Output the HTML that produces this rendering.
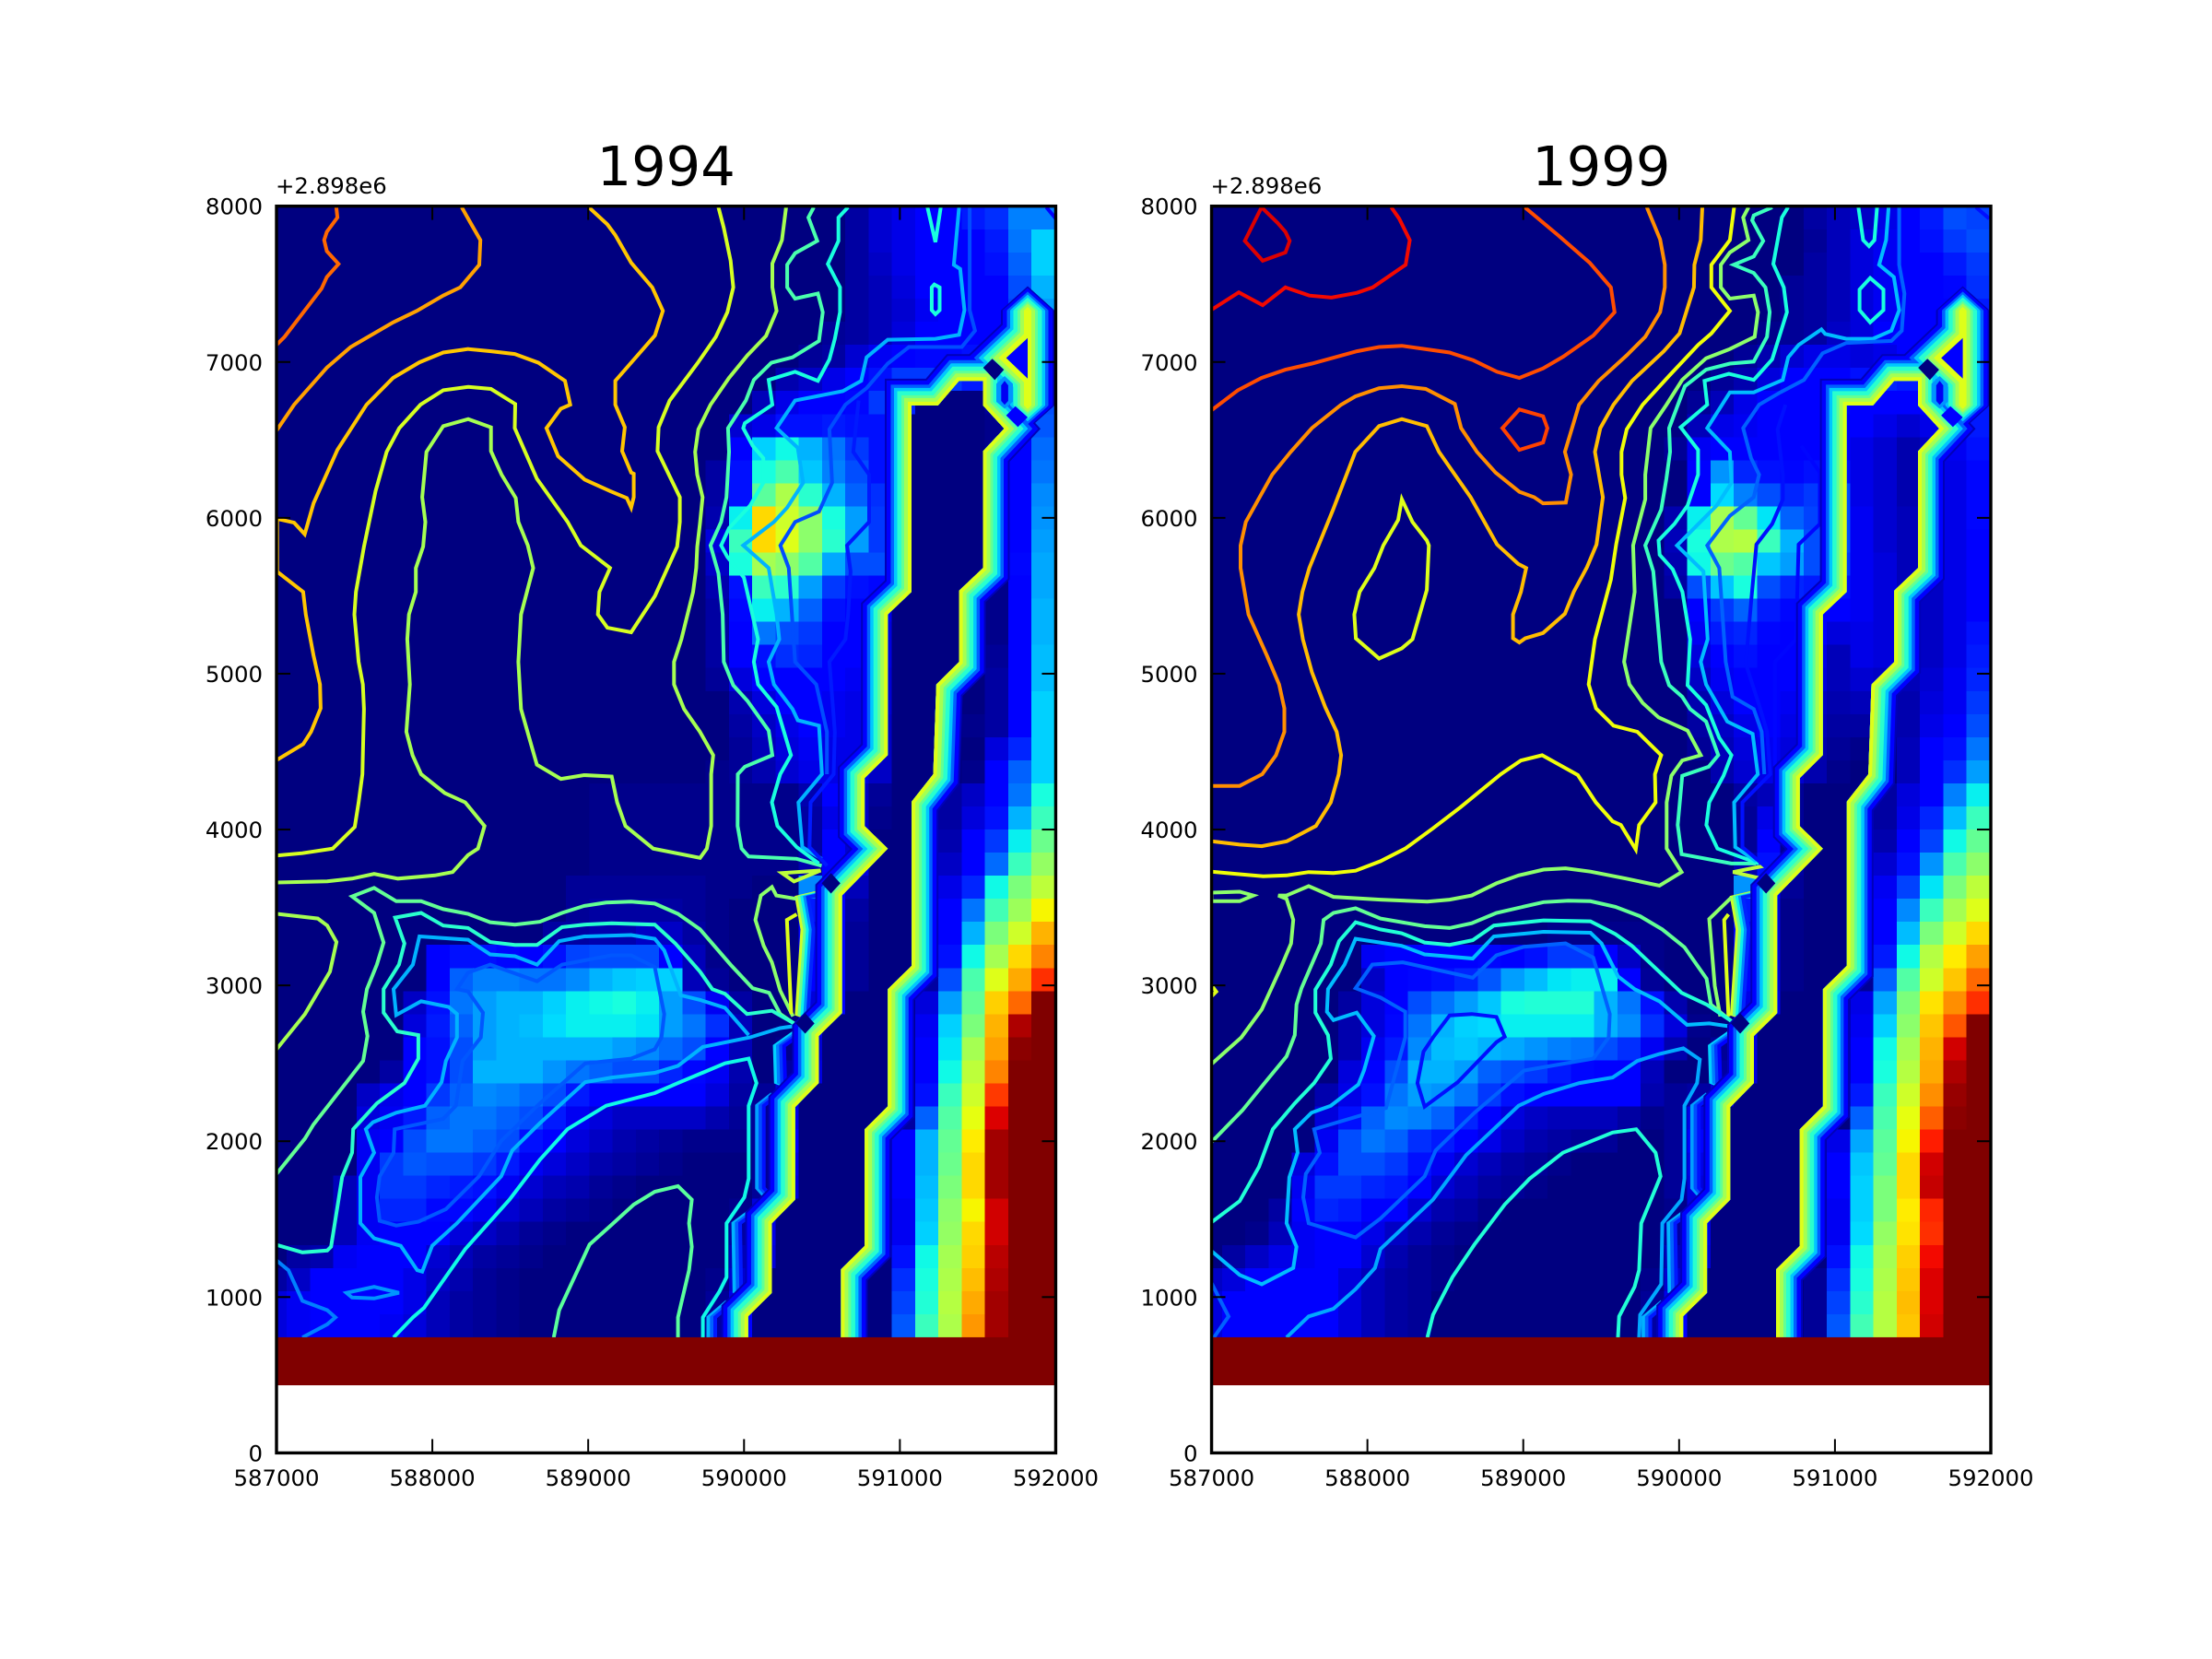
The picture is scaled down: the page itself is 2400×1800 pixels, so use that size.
<!DOCTYPE html>
<html lang="en">
<head>
<meta charset="utf-8">
<title>1994 and 1999 contour maps</title>
<style>
html,body{margin:0;padding:0;background:#fff;width:2400px;height:1800px;overflow:hidden}
svg{display:block}
text{font-family:"DejaVu Sans","Liberation Sans",sans-serif;fill:#000}
</style>
</head>
<body>
<svg id="chart" xmlns="http://www.w3.org/2000/svg" width="2400" height="1800" viewBox="0 0 2400 1800">
  <rect x="0" y="0" width="2400" height="1800" fill="#fff"/>
  <g id="panel-0"></g>
  <g id="panel-1"></g>
  <text x="722.7" y="201" font-size="59" text-anchor="middle">1994</text>
  <text x="1737.3" y="201" font-size="59" text-anchor="middle">1999</text>
  <text x="299" y="210" font-size="24.4">+2.898e6</text>
  <text x="1313.5" y="210" font-size="24.4">+2.898e6</text>
</svg>
<script>
// ---------- shared axis data ----------
const xTicks = [587000, 588000, 589000, 590000, 591000, 592000];
const yTicks = [0, 1000, 2000, 3000, 4000, 5000, 6000, 7000, 8000];
const xDomain = [587000, 592000];
const yDomain = [0, 8000];
const gridXStart = 586917;
const gridXStep = 149.3;
const gridYStart = 742;
const gridYStep = 148.1;
const fillBandY = [434, 742];
const fillBandValue = 100;

// ---------- heatmap values, 0-100, top row first ----------
const heat1994 = [
[0,0,0,0,0,0,0,0,0,0,0,0,0,0,0,0,0,0,0,0,0,0,0,0,0,3,7,9,11,11,15,17,25,25],
[0,0,0,0,0,0,0,0,0,0,0,0,0,0,0,0,0,0,0,0,0,0,0,0,0,3,7,9,11,11,12,15,24,33],
[0,0,0,0,0,0,0,0,0,0,0,0,0,0,0,0,0,0,0,0,0,0,0,0,0,3,6,9,11,11,12,14,22,33],
[0,0,0,0,0,0,0,0,0,0,0,0,0,0,0,0,0,0,0,0,0,0,0,0,0,3,5,8,11,11,11,12,20,30],
[0,0,0,0,0,0,0,0,0,0,0,0,0,0,0,0,0,0,0,0,0,0,0,0,0,3,5,7,10,11,11,12,19,28],
[0,0,0,0,0,0,0,0,0,0,0,0,0,0,0,0,0,0,0,0,0,0,0,0,2,3,5,8,11,11,11,11,15,25],
[0,0,0,0,0,0,0,0,0,0,0,0,0,0,0,0,0,0,0,0,0,0,0,2,3,7,10,12,13,13,14,5,11,22],
[0,0,0,0,0,0,0,0,0,0,0,0,0,0,0,0,0,0,0,0,0,0,4,6,9,11,14,18,18,18,15,5,11,20],
[0,0,0,0,0,0,0,0,0,0,0,0,0,0,0,0,0,0,0,0,0,5,9,11,12,13,18,16,0,0,0,2,11,20],
[0,0,0,0,0,0,0,0,0,0,0,0,0,0,0,0,0,0,0,0,7,9,14,14,15,14,14,0,0,0,0,1,11,21],
[0,0,0,0,0,0,0,0,0,0,0,0,0,0,0,0,0,0,0,0,12,33,37,30,24,18,14,0,0,0,0,1,11,23],
[0,0,0,0,0,0,0,0,0,0,0,0,0,0,0,0,0,0,0,3,14,38,44,32,25,20,14,0,0,0,0,1,11,24],
[0,0,0,0,0,0,0,0,0,0,0,0,0,0,0,0,0,0,0,3,14,46,56,40,30,22,17,0,0,0,0,1,11,26],
[0,0,0,0,0,0,0,0,0,0,0,0,0,0,0,0,0,0,0,4,36,68,60,52,38,28,18,0,0,0,0,1,12,27],
[0,0,0,0,0,0,0,0,0,0,0,0,0,0,0,0,0,0,0,8,42,68,62,52,40,28,18,0,0,0,0,1,12,28],
[0,0,0,0,0,0,0,0,0,0,0,0,0,0,0,0,0,0,0,6,38,55,52,45,29,20,20,0,0,0,0,1,13,29],
[0,0,0,0,0,0,0,0,0,0,0,0,0,0,0,0,0,0,0,4,14,42,40,28,18,14,13,0,0,0,0,1,12,29],
[0,0,0,0,0,0,0,0,0,0,0,0,0,0,0,0,0,0,0,3,13,36,30,22,14,12,9,0,0,0,0,1,12,30],
[0,0,0,0,0,0,0,0,0,0,0,0,0,0,0,0,0,0,0,3,12,24,20,18,12,11,8,0,0,0,0,1,12,30],
[0,0,0,0,0,0,0,0,0,0,0,0,0,0,0,0,0,0,0,3,11,14,17,16,12,11,8,0,0,0,0,2,12,31],
[0,0,0,0,0,0,0,0,0,0,0,0,0,0,0,0,0,0,0,2,8,11,12,12,11,10,7,0,0,0,0,3,11,31],
[0,0,0,0,0,0,0,0,0,0,0,0,0,0,0,0,0,0,0,0,4,8,11,11,10,9,7,0,0,0,0,3,11,33],
[0,0,0,0,0,0,0,0,0,0,0,0,0,0,0,0,0,0,0,0,3,6,9,11,10,9,6,0,0,0,1,3,11,33],
[0,0,0,0,0,0,0,0,0,0,0,0,0,0,0,0,0,0,0,0,2,5,8,10,9,9,6,0,0,0,0,8,16,33],
[0,0,0,0,0,0,0,0,0,0,0,0,0,0,0,0,0,0,0,1,2,4,7,9,9,9,6,0,0,0,1,11,22,33],
[0,0,0,0,0,0,0,0,0,0,0,0,0,0,1,1,1,1,1,1,1,1,1,4,11,6,2,0,0,3,6,11,24,38],
[0,0,0,0,0,0,0,0,0,0,0,0,0,0,1,1,1,1,1,1,1,1,1,3,9,6,1,0,0,3,8,14,30,42],
[0,0,0,0,0,0,0,0,0,0,0,0,0,0,1,1,1,1,1,1,1,1,1,3,11,7,0,0,0,4,11,18,36,48],
[0,0,0,0,0,0,0,0,0,0,0,0,0,0,1,1,1,1,1,1,1,1,1,4,11,8,0,0,0,6,11,23,42,53],
[0,0,0,0,0,0,0,0,0,0,0,0,0,2,2,2,2,2,2,1,1,0,0,26,11,5,0,0,0,9,16,37,50,58],
[0,0,0,0,0,0,0,0,0,0,0,0,0,2,3,3,3,3,2,1,0,0,0,15,11,3,0,0,0,11,24,43,54,65],
[0,0,0,0,0,0,0,0,0,0,0,0,3,3,4,4,6,6,3,1,0,0,0,11,11,2,0,0,0,11,30,50,60,72],
[0,0,0,0,0,0,0,11,14,14,13,12,14,19,20,20,20,11,5,1,0,0,0,11,11,2,0,0,3,14,37,55,68,77],
[0,0,0,0,0,0,0,11,22,25,25,24,24,26,30,32,33,33,5,2,0,0,0,11,11,2,0,0,3,20,44,62,73,86],
[0,0,0,0,0,0,6,14,24,28,30,30,33,36,37,38,36,28,20,10,3,0,0,8,11,0,0,0,8,28,47,69,80,100],
[0,0,0,0,0,0,8,15,22,28,30,31,34,36,36,36,35,28,24,17,5,0,0,9,0,0,0,0,10,33,50,72,96,100],
[0,0,0,0,0,0,11,14,20,28,30,30,30,30,30,28,26,23,20,12,5,0,1,7,0,0,0,0,11,35,55,74,99,100],
[0,0,0,0,0,3,11,14,20,30,30,30,27,24,22,20,20,16,13,10,4,0,3,8,0,0,0,0,11,37,58,77,100,100],
[0,0,0,0,6,9,11,18,22,26,25,23,20,15,11,11,11,11,11,8,3,2,8,0,0,0,0,0,14,42,60,85,100,100],
[0,0,0,0,8,10,15,22,24,24,22,20,15,10,8,6,6,6,6,4,2,2,9,0,0,0,0,3,22,45,63,92,100,100],
[0,0,0,0,10,12,20,24,24,22,20,14,11,8,6,4,3,2,1,1,1,2,11,0,0,0,0,11,30,47,66,97,100,100],
[0,0,0,0,10,18,21,20,20,18,15,10,8,6,4,3,2,1,0,0,0,2,9,0,0,0,0,11,30,48,68,97,100,100],
[0,0,0,5,10,18,18,16,15,14,10,7,5,4,2,1,0,0,0,0,0,2,8,0,0,0,0,11,31,50,68,97,100,100],
[0,0,0,5,10,16,16,13,13,10,7,5,3,2,1,0,0,0,0,0,1,8,0,0,0,0,0,10,32,52,65,93,100,100],
[0,0,0,5,10,12,12,11,8,6,4,2,1,0,0,0,0,0,0,0,3,9,0,0,0,0,0,10,33,53,68,93,100,100],
[0,3,4,10,11,11,11,7,5,3,2,1,0,0,0,0,0,0,0,0,5,8,0,0,0,0,0,14,37,55,69,95,100,100],
[3,6,11,11,11,11,9,6,4,2,1,0,0,0,0,0,0,0,0,1,7,0,0,0,0,0,0,17,38,56,71,96,100,100],
[8,10,11,11,11,11,9,5,3,2,1,0,0,0,0,0,0,0,0,2,9,0,0,0,0,0,0,19,39,57,73,97,100,100],
[8,10,11,11,11,10,8,5,3,2,1,0,0,0,0,0,0,0,0,3,11,0,0,0,0,0,0,21,42,56,75,97,100,100]
];
const heat1999 = [
[0,0,0,0,0,0,0,0,0,0,0,0,0,0,0,0,0,0,0,0,0,0,0,0,0,0,3,5,6,9,11,15,20,19],
[0,0,0,0,0,0,0,0,0,0,0,0,0,0,0,0,0,0,0,0,0,0,0,0,0,0,2,5,8,10,11,14,18,20],
[0,0,0,0,0,0,0,0,0,0,0,0,0,0,0,0,0,0,0,0,0,0,0,0,0,0,3,5,8,10,11,12,15,18],
[0,0,0,0,0,0,0,0,0,0,0,0,0,0,0,0,0,0,0,0,0,0,0,0,0,2,3,5,8,10,11,11,13,17],
[0,0,0,0,0,0,0,0,0,0,0,0,0,0,0,0,0,0,0,0,0,0,0,0,0,2,3,5,8,10,11,11,12,15],
[0,0,0,0,0,0,0,0,0,0,0,0,0,0,0,0,0,0,0,0,0,0,0,0,1,2,3,6,8,11,11,11,11,14],
[0,0,0,0,0,0,0,0,0,0,0,0,0,0,0,0,0,0,0,0,0,0,0,2,4,7,9,9,8,9,11,11,11,14],
[0,0,0,0,0,0,0,0,0,0,0,0,0,0,0,0,0,0,0,0,0,0,2,4,8,11,12,11,14,16,15,11,11,15],
[0,0,0,0,0,0,0,0,0,0,0,0,0,0,0,0,0,0,0,0,0,2,5,9,11,11,12,13,11,11,11,11,11,15],
[0,0,0,0,0,0,0,0,0,0,0,0,0,0,0,0,0,0,0,0,0,5,9,10,11,11,11,12,11,9,7,9,11,15],
[0,0,0,0,0,0,0,0,0,0,0,0,0,0,0,0,0,0,0,0,2,10,11,11,11,11,12,12,9,7,4,6,10,14],
[0,0,0,0,0,0,0,0,0,0,0,0,0,0,0,0,0,0,0,0,0,12,27,16,14,13,14,14,9,7,4,6,9,13],
[0,0,0,0,0,0,0,0,0,0,0,0,0,0,0,0,0,0,0,0,0,12,34,25,20,16,18,20,9,7,4,6,9,13],
[0,0,0,0,0,0,0,0,0,0,0,0,0,0,0,0,0,0,0,0,4,36,55,47,35,22,19,20,10,7,5,6,9,13],
[0,0,0,0,0,0,0,0,0,0,0,0,0,0,0,0,0,0,0,0,5,38,56,57,42,30,20,20,10,7,5,6,9,12],
[0,0,0,0,0,0,0,0,0,0,0,0,0,0,0,0,0,0,0,0,4,37,48,45,32,28,20,18,10,8,5,6,9,11],
[0,0,0,0,0,0,0,0,0,0,0,0,0,0,0,0,0,0,0,0,3,20,32,38,20,16,15,14,10,8,5,6,9,12],
[0,0,0,0,0,0,0,0,0,0,0,0,0,0,0,0,0,0,0,0,0,12,18,22,15,13,11,11,10,8,5,6,9,12],
[0,0,0,0,0,0,0,0,0,0,0,0,0,0,0,0,0,0,0,0,0,10,15,16,13,11,11,8,9,8,5,6,9,14],
[0,0,0,0,0,0,0,0,0,0,0,0,0,0,0,0,0,0,0,0,0,8,12,14,12,11,9,5,9,8,5,6,9,15],
[0,0,0,0,0,0,0,0,0,0,0,0,0,0,0,0,0,0,0,0,0,6,10,11,11,11,8,5,7,6,5,7,10,16],
[0,0,0,0,0,0,0,0,0,0,0,0,0,0,0,0,0,0,0,0,0,4,8,11,11,10,6,4,5,4,4,8,10,18],
[0,0,0,0,0,0,0,0,0,0,0,0,0,0,0,0,0,0,0,0,0,3,6,9,11,9,5,3,3,3,4,9,11,20],
[0,0,0,0,0,0,0,0,0,0,0,0,0,0,0,0,0,0,0,0,0,2,5,8,10,8,4,2,1,1,5,11,14,24],
[0,0,0,0,0,0,0,0,0,0,0,0,0,0,0,0,0,0,0,0,0,0,4,7,9,7,4,1,0,0,5,11,17,28],
[0,0,0,0,0,0,0,0,0,0,0,0,0,0,0,0,0,0,0,0,0,0,0,3,5,2,0,0,0,3,8,11,25,36],
[0,0,0,0,0,0,0,0,0,0,0,0,0,0,0,0,0,0,0,0,0,0,0,2,9,2,0,0,0,3,9,16,31,42],
[0,0,0,0,0,0,0,0,0,0,0,0,0,0,0,0,0,0,0,0,0,0,0,2,12,2,0,0,0,4,11,19,37,47],
[0,0,0,0,0,0,0,0,0,0,0,0,0,0,0,0,0,0,0,0,0,0,0,4,14,3,0,0,0,7,14,27,44,52],
[0,0,0,0,0,0,0,0,0,0,0,0,0,0,0,0,0,0,0,0,0,0,0,27,10,2,0,0,0,10,19,35,50,58],
[0,0,0,0,0,0,0,0,0,0,0,0,0,0,0,0,0,0,0,0,0,0,0,15,8,1,0,0,0,11,26,42,55,62],
[0,0,0,0,0,0,0,0,0,0,0,0,0,0,0,1,1,1,1,1,0,0,0,11,8,1,0,0,0,11,31,50,60,68],
[0,0,0,0,0,0,0,10,11,11,11,11,13,12,14,18,18,11,6,1,0,0,0,11,8,1,0,0,2,15,37,57,66,74],
[0,0,0,0,0,0,0,6,11,13,14,16,21,28,31,35,36,36,11,2,0,0,0,11,8,1,0,0,2,22,45,60,70,80],
[0,0,0,0,0,0,3,8,11,20,24,28,32,38,39,39,39,30,24,14,4,0,0,9,9,0,0,0,9,29,50,67,76,86],
[0,0,0,0,0,0,4,8,13,24,30,33,34,36,36,36,36,30,26,17,8,1,0,10,0,0,0,0,10,33,52,70,82,100],
[0,0,0,0,0,0,4,10,15,26,31,32,30,29,27,25,24,20,17,10,4,0,2,8,0,0,0,0,11,37,55,72,93,100],
[0,0,0,0,0,0,8,11,20,30,30,28,22,20,18,15,13,12,11,5,0,0,3,8,0,0,0,0,11,38,57,73,96,100],
[0,0,0,0,0,4,9,14,24,28,27,24,18,14,11,11,11,11,11,4,2,3,8,0,0,0,0,0,15,42,60,76,98,100],
[0,0,0,0,0,8,14,22,26,25,22,16,11,8,6,5,5,5,3,1,2,9,0,0,0,0,0,0,22,44,63,81,99,100],
[0,0,0,0,0,10,20,24,22,17,15,11,9,6,4,3,2,2,0,0,2,11,0,0,0,0,0,9,29,46,65,88,100,100],
[0,0,0,0,8,14,20,20,18,14,10,7,5,3,2,1,0,0,0,0,2,9,0,0,0,0,0,11,32,47,68,93,100,100],
[0,0,0,0,10,18,18,16,15,12,7,5,3,2,1,0,0,0,0,0,2,8,0,0,0,0,0,11,33,50,68,94,100,100],
[0,0,0,3,11,16,15,12,11,7,4,3,1,0,0,0,0,0,0,0,1,8,0,0,0,0,0,10,33,50,66,87,100,100],
[0,0,1,5,10,12,11,9,6,4,2,1,0,0,0,0,0,0,0,0,3,9,0,0,0,0,0,10,34,53,67,86,100,100],
[0,3,6,9,10,11,11,7,4,2,1,0,0,0,0,0,0,0,0,0,5,8,0,0,0,0,0,14,37,55,69,90,100,100],
[6,8,11,11,11,11,8,5,3,2,1,0,0,0,0,0,0,0,0,1,7,0,0,0,0,0,2,17,38,56,70,92,100,100],
[8,11,12,12,11,11,8,5,3,2,0,0,0,0,0,0,0,0,0,2,9,0,0,0,0,0,2,19,40,57,71,92,100,100],
[8,11,12,12,11,11,8,5,3,2,0,0,0,0,0,0,0,0,0,3,11,0,0,0,0,0,2,21,43,57,70,93,100,100]
];

// ---------- contour lines in data coordinates ----------
const contours1994 = [
{level:80,pts:[[587384,7993],[587391,7927],[587323,7835],[587306,7782],[587323,7711],[587398,7629],[587323,7545],[587289,7471],[587052,7162],[587000,7110]]},
{level:74,pts:[[588189,7993],[588240,7901],[588308,7782],[588301,7624],[588179,7479],[588070,7426],[587900,7328],[587748,7254],[587476,7096],[587323,6964],[587113,6726],[587000,6560]]},
{level:70,pts:[[589004,7993],[589123,7883],[589174,7814],[589276,7637],[589411,7479],[589479,7328],[589428,7170],[589174,6879],[589174,6726],[589235,6581],[589218,6428],[589276,6291],[589292,6283],[589292,6132],[589276,6066],[589248,6127],[589140,6172],[588977,6246],[588807,6396],[588732,6576],[588824,6700],[588885,6726],[588851,6879],[588681,6995],[588529,7051],[588376,7069],[588230,7083],[588070,7061],[587917,6998],[587748,6898],[587578,6726],[587391,6436],[587238,6093],[587181,5895],[587113,5969],[587011,5992],[587004,5995],[587004,5655],[587171,5525],[587188,5380],[587238,5116],[587279,4931],[587283,4778],[587222,4627],[587171,4548],[587000,4445]]},
{level:61,pts:[[589836,7993],[589870,7861],[589914,7650],[589931,7479],[589893,7320],[589819,7162],[589700,6990],[589523,6753],[589452,6581],[589445,6428],[589588,6132],[589588,5974],[589571,5815],[589428,5499],[589276,5266],[589123,5295],[589062,5380],[589072,5525],[589140,5678],[588953,5823],[588868,5974],[588671,6251],[588529,6576],[588532,6731],[588376,6827],[588230,6840],[588070,6819],[587924,6726],[587788,6576],[587707,6423],[587636,6172],[587561,5815],[587510,5525],[587500,5380],[587527,5076],[587554,4931],[587561,4773],[587551,4355],[587527,4174],[587502,4017],[587361,3878],[587166,3848],[587000,3833]]},
{level:55,pts:[[590270,7993],[590243,7782],[590182,7632],[590182,7479],[590209,7328],[590141,7167],[590022,7043],[589904,6898],[589785,6726],[589707,6568],[589686,6423],[589700,6277],[589734,6132],[589717,5961],[589700,5815],[589693,5678],[589673,5525],[589598,5221],[589551,5076],[589551,4931],[589615,4773],[589717,4627],[589802,4477],[589789,4355],[589789,4023],[589761,3878],[589718,3818],[589417,3878],[589239,4023],[589186,4174],[589151,4340],[588974,4349],[588825,4325],[588671,4416],[588569,4773],[588552,5076],[588569,5380],[588647,5678],[588613,5823],[588552,5974],[588535,6127],[588444,6277],[588376,6428],[588376,6581],[588230,6634],[588070,6589],[587962,6423],[587935,6132],[587955,5974],[587941,5815],[587894,5678],[587894,5525],[587850,5380],[587839,5221],[587856,4931],[587833,4627],[587873,4477],[587928,4355],[588080,4234],[588211,4174],[588335,4023],[588293,3878],[588229,3836],[588130,3727],[588016,3706],[587779,3685],[587626,3715],[587485,3685],[587325,3667],[587000,3660]]},
{level:44,pts:[[590447,7993],[590413,7927],[590470,7777],[590328,7698],[590277,7624],[590277,7479],[590328,7407],[590474,7439],[590505,7320],[590481,7135],[590311,7030],[590175,6995],[590063,6885],[590012,6753],[589897,6576],[589904,6423],[589887,6132],[589853,5974],[589785,5823],[589836,5644],[589863,5380],[589870,5076],[589931,4926],[590022,4825],[590158,4635],[590182,4477],[590005,4403],[589960,4355],[589959,4023],[589984,3878],[590030,3827],[590338,3812],[590498,3767]]},
{level:58,closed:true,pts:[[590491,3737],[590243,3721],[590321,3667]]},
{level:52,pts:[[590338,3555],[590207,3577],[590179,3631],[590108,3577],[590073,3420],[590126,3254],[590179,3148],[590232,2967],[590314,2801]]},
{level:62,pts:[[590338,3456],[590275,3420],[590303,2816]]},
{level:55,pts:[[587000,3459],[587265,3429],[587325,3384],[587385,3278],[587343,3088],[587183,2816],[587000,2590]]},
{level:47,pts:[[587000,1790],[587183,2017],[587237,2107],[587556,2515],[587584,2675],[587556,2831],[587580,2976],[587644,3133],[587687,3275],[587626,3465],[587485,3571],[587626,3625],[587768,3540],[587928,3540],[588070,3489],[588229,3459],[588371,3405],[588530,3390],[588690,3408],[588832,3465],[588974,3510],[589115,3531],[589275,3537],[589427,3525],[589576,3459],[589718,3359],[589913,3133],[590055,2982],[590161,2952],[590232,2816],[590321,2756]]},
{level:40,pts:[[587000,1335],[587166,1287],[587325,1299],[587350,1323],[587421,1769],[587485,1926],[587492,2077],[587644,2243],[587821,2373],[587910,2530],[587910,2681],[587775,2705],[587687,2825],[587687,2976],[587786,3133],[587821,3269],[587761,3435],[587928,3465],[588070,3384],[588229,3368],[588371,3278],[588530,3260],[588672,3260],[588832,3374],[588974,3390],[589151,3399],[589427,3390],[589559,3269],[589718,3088],[589796,2976],[589878,2946],[590019,2816],[590179,2837],[590321,2756]]},
{level:30,pts:[[590338,2741],[590232,2726],[590037,2666],[589736,2605],[589576,2484],[589427,2439],[589151,2409],[588981,2379],[588690,2116],[588513,1941],[588442,1775],[588158,1474],[587999,1329],[587935,1163],[587903,1172],[587797,1329],[587626,1377],[587538,1474],[587538,1769],[587626,1926],[587573,2077],[587619,2122],[587768,2183],[587953,2228],[588059,2379],[588087,2515],[588158,2666],[588158,2816],[588105,2862],[587928,2898],[587768,2810],[587751,2976],[587875,3133],[587917,3314],[588229,3293],[588371,3199],[588530,3187],[588672,3133],[588814,3284],[588974,3314],[589275,3323],[589427,3299],[589488,3224],[589594,2937],[589718,2907],[589878,2856],[590030,2681]]},
{level:21,closed:true,pts:[[588158,2976],[588229,3082],[588371,3133],[588672,3027],[588832,3133],[589151,3193],[589275,3193],[589427,3118],[589488,2816],[589470,2666],[589427,2590],[589275,2530],[588981,2500],[588690,2243],[588442,2002],[588300,1775],[588087,1564],[587910,1483],[587768,1459],[587662,1489],[587644,1640],[587662,1775],[587751,1926],[587758,2077],[588070,2144],[588151,2228],[588194,2515],[588311,2666],[588325,2825],[588229,2961]]},
{level:37,pts:[[587751,741],[587875,870],[587946,931],[588211,1308],[588495,1625],[588690,1881],[588867,2077],[589115,2228],[589427,2309],[589576,2373],[589878,2500],[590030,2530],[590080,2373],[590030,2228],[590030,1760],[590002,1640],[589888,1474],[589888,1127],[589842,1036],[589736,870],[589736,741]]},
{level:46,pts:[[588779,741],[588814,916],[589009,1338],[589151,1465],[589293,1594],[589427,1676],[589576,1712],[589665,1625],[589647,1474],[589665,1323],[589647,1172],[589594,946],[589576,870],[589576,741]]},
{level:27,closed:true,pts:[[587449,1027],[587626,1066],[587786,1027],[587626,991],[587485,997]]},
{level:25,pts:[[587000,1235],[587077,1172],[587166,976],[587325,916],[587378,870],[587325,825],[587166,741]]},
{level:38,pts:[[590667,7993],[590606,7927],[590606,7777],[590538,7629],[590616,7479],[590616,7320],[590583,7149],[590548,7017],[590474,6879],[590328,6937],[590158,6885],[590182,6726],[590005,6607],[589995,6576],[590056,6462],[590124,6383],[590124,6225],[590039,6079],[589904,5934],[589853,5823],[589893,5749],[589999,5617],[590090,5221],[590063,5076],[590090,4931],[590209,4786],[590301,4477],[590232,4355],[590179,4174],[590214,4023],[590338,3887],[590480,3782]]},
{level:30,pts:[[591380,7993],[591346,7624],[591387,7597],[591414,7333],[591380,7175],[591228,7149],[590922,7143],[590786,7030],[590752,6879],[590634,6813],[590328,6753],[590209,6576],[590345,6449],[590379,6225],[590277,6066],[590192,5974],[589995,5823],[590158,5678],[590209,5380],[590226,5221],[590158,5076],[590192,4931],[590311,4773],[590345,4701],[590481,4667],[590500,4355],[590349,4174],[590374,3887],[590498,3812]]},
{level:20,pts:[[591448,7993],[591448,7333],[591482,7201],[591397,7096],[591058,7096],[590922,6990],[590786,6832],[590650,6726],[590548,6568],[590565,6225],[590481,6040],[590328,5974],[590233,5823],[590287,5678],[590328,5076],[590463,4931],[590532,4627],[590532,4355]]},
{level:15,pts:[[590735,6753],[590701,6423],[590803,6277],[590803,5974],[590661,5823],[590684,5657],[590668,5380],[590651,5221],[590548,5076],[590583,4627],[590575,4355],[590427,4174],[590420,3887],[590533,3767]]},
{level:38,pts:[[591177,7993],[591228,7769],[591262,7993]]},
{level:38,closed:true,pts:[[591221,7497],[591255,7479],[591255,7333],[591228,7307],[591204,7333],[591204,7479]]},
{level:12,pts:[[591940,7993],[592000,7920]]}
];
const contours1999 = [
{level:92,closed:true,pts:[[587321,7993],[587423,7893],[587474,7835],[587501,7777],[587474,7703],[587328,7650],[587213,7777]]},
{level:90,pts:[[588153,7993],[588204,7920],[588272,7782],[588245,7624],[588034,7479],[587933,7444],[587770,7413],[587627,7426],[587474,7479],[587328,7365],[587175,7447],[587000,7335]]},
{level:83,pts:[[589009,7993],[589223,7814],[589426,7637],[589562,7479],[589586,7320],[589450,7170],[589257,7035],[589127,6959],[588975,6898],[588832,6937],[588679,7011],[588527,7061],[588221,7104],[588075,7096],[587933,7069],[587644,6990],[587474,6951],[587321,6898],[587169,6819],[587000,6690]]},
{level:84,closed:true,pts:[[588975,6695],[589127,6652],[589155,6576],[589127,6483],[588975,6436],[588866,6576]]},
{level:76,pts:[[589793,7993],[589878,7787],[589908,7624],[589908,7479],[589878,7320],[589783,7162],[589664,7043],[589484,6879],[589358,6726],[589267,6423],[589307,6277],[589273,6098],[589127,6093],[589070,6132],[588975,6167],[588822,6291],[588703,6423],[588601,6576],[588561,6731],[588374,6827],[588221,6845],[588075,6832],[587922,6779],[587831,6726],[587644,6576],[587508,6423],[587389,6277],[587220,5974],[587186,5823],[587186,5678],[587237,5380],[587355,5116],[587433,4931],[587467,4778],[587467,4627],[587413,4477],[587325,4355],[587180,4280],[587000,4280]]},
{level:71,pts:[[590149,7993],[590139,7782],[590098,7624],[590095,7479],[590003,7183],[589902,7069],[589698,6879],[589579,6726],[589494,6576],[589460,6423],[589511,6132],[589470,5829],[589409,5684],[589324,5525],[589267,5385],[589127,5261],[589012,5227],[588975,5200],[588934,5227],[588934,5380],[588985,5525],[589019,5678],[588968,5704],[588832,5829],[588662,6132],[588459,6423],[588381,6589],[588221,6634],[588075,6589],[587922,6423],[587780,6053],[587627,5678],[587583,5525],[587559,5380],[587586,5221],[587644,5010],[587729,4786],[587803,4627],[587831,4477],[587816,4355],[587765,4174],[587669,4023],[587481,3924],[587322,3893],[587180,3903],[587000,3925]]},
{level:62,closed:true,pts:[[588221,6119],[588289,5974],[588381,5855],[588394,5823],[588381,5538],[588289,5221],[588221,5163],[588075,5097],[587926,5227],[587916,5380],[587950,5525],[588045,5678],[588102,5823],[588197,5987]]},
{level:64,pts:[[590353,7993],[590326,7782],[590207,7624],[590207,7479],[590326,7328],[590207,7183],[590122,7109],[589936,6911],[589766,6726],[589664,6568],[589630,6423],[589630,6277],[589654,6127],[589596,5829],[589562,5604],[589460,5221],[589420,4931],[589467,4778],[589579,4667],[589732,4627],[589885,4477],[589845,4355],[589849,4174],[589743,4029],[589722,3872],[589626,4029],[589573,4053],[589466,4174],[589350,4350],[589121,4477],[588985,4443],[588856,4355],[588598,4144],[588421,4008],[588243,3878],[588084,3797],[587924,3736],[587782,3721],[587623,3727],[587481,3706],[587332,3700],[587162,3715],[587000,3730]]},
{level:52,pts:[[590445,7993],[590411,7927],[590445,7782],[590326,7703],[590268,7624],[590268,7479],[590326,7407],[590479,7426],[590506,7320],[590485,7162],[590326,7083],[590173,7024],[590020,6885],[589919,6726],[589817,6576],[589783,6277],[589783,6119],[589705,5823],[589715,5525],[589647,5076],[589681,4931],[589766,4812],[589868,4720],[590054,4635],[590139,4477],[590020,4443],[589950,4345],[589920,4174],[589920,3878],[590016,3727],[589874,3640],[589661,3685],[589431,3730],[589271,3751],[589130,3743],[588970,3706],[588828,3655],[588669,3577],[588527,3550],[588385,3537],[588084,3550],[587782,3568],[587623,3637],[587481,3577],[587428,3577],[587481,3555],[587524,3420],[587510,3269],[587446,3118],[587322,2846],[587191,2666],[587000,2495]]},
{level:52,closed:true,pts:[[587000,3595],[587180,3601],[587268,3577],[587180,3540],[587000,3540]]},
{level:62,pts:[[587000,3000],[587030,2960],[587000,2930]]},
{level:42,pts:[[590598,7993],[590479,7941],[590469,7909],[590540,7777],[590479,7677],[590350,7624],[590479,7571],[590554,7479],[590581,7320],[590564,7162],[590479,7003],[590326,6990],[590173,6951],[590037,6845],[589936,6576],[589942,6423],[589918,6251],[589885,6053],[589783,5823],[589834,5657],[589885,5076],[589936,4926],[590020,4852],[590071,4773],[590173,4693],[590251,4477],[590190,4403],[590020,4345],[589991,4029],[590016,3842],[590335,3782],[590494,3782]]},
{level:58,pts:[[590548,3767],[590346,3727],[590530,3685]]},
{level:52,pts:[[590335,3564],[590193,3426],[590229,2997],[590264,2801]]},
{level:62,pts:[[590317,3456],[590289,3420],[590317,2801]]},
{level:47,pts:[[587000,1995],[587198,2198],[587357,2394],[587481,2545],[587534,2681],[587545,2877],[587577,2982],[587701,3269],[587719,3420],[587782,3465],[587924,3495],[588084,3429],[588367,3380],[588527,3368],[588669,3399],[588828,3465],[589130,3534],[589289,3543],[589431,3540],[589591,3504],[589750,3444],[589892,3359],[590034,3245],[590176,3043],[590204,2877],[590335,2771]]},
{level:39,pts:[[587000,1480],[587180,1616],[587304,1836],[587393,2077],[587534,2243],[587658,2373],[587765,2530],[587747,2681],[587666,2825],[587666,2973],[587765,3133],[587818,3284],[587924,3405],[588084,3359],[588219,3335],[588367,3275],[588527,3260],[588676,3290],[588811,3384],[589130,3417],[589431,3411],[589591,3329],[589697,3254],[590016,2952],[590176,2877],[590335,2771]]},
{level:31,pts:[[587000,1295],[587180,1142],[587322,1082],[587524,1187],[587545,1323],[587481,1474],[587499,1769],[587552,1926],[587534,2077],[587641,2183],[587765,2228],[587942,2364],[587978,2454],[588041,2675],[587931,2825],[587782,2777],[587740,2831],[587747,2976],[587853,3133],[587924,3299],[588219,3254],[588367,3199],[588676,3172],[588811,3314],[589130,3344],[589431,3338],[589502,3269],[589608,3058],[589714,2976],[589874,2898],[590051,2747],[590193,2756],[590335,2735]]},
{level:29,pts:[[587481,741],[587623,876],[587782,925],[587924,1051],[588048,1187],[588084,1308],[588421,1625],[588633,1911],[588970,2228],[589130,2303],[589360,2373],[589573,2409],[589732,2515],[589874,2560],[590027,2596],[590133,2524],[590115,2373],[590034,2228],[590034,1760],[590016,1625],[589892,1474],[589885,1082],[589750,886],[589743,741]]},
{level:39,pts:[[588385,741],[588421,886],[588545,1127],[588687,1338],[588881,1594],[589041,1760],[589254,1926],[589573,2056],[589725,2077],[589849,1926],[589881,1775],[589757,1474],[589743,1172],[589714,1066],[589615,876],[589608,741]]},
{level:14,closed:true,pts:[[588527,2807],[588669,2816],[588828,2798],[588881,2671],[588828,2635],[588580,2379],[588367,2222],[588321,2373],[588360,2575],[588421,2666]]},
{level:22,closed:true,pts:[[587924,2982],[588031,3133],[588226,3148],[588676,3049],[588828,3193],[589005,3248],[589271,3269],[589449,3178],[589555,2816],[589548,2666],[589449,2530],[589005,2454],[588687,2183],[588438,1941],[588367,1775],[588084,1504],[587924,1383],[587623,1474],[587588,1640],[587605,1791],[587694,1926],[587658,2077],[588119,2213],[588243,2666],[588243,2831],[588084,2922]]},
{level:22,pts:[[587000,1090],[587109,876],[587000,720]]},
{level:38,pts:[[590699,7993],[590659,7927],[590604,7629],[590672,7479],[590692,7320],[590597,7017],[590479,6885],[590319,6924],[590163,6879],[590180,6726],[590010,6581],[590122,6436],[590122,6277],[590054,6079],[589970,5961],[589868,5855],[589875,5763],[589959,5670],[590021,5525],[590071,5221],[590054,4926],[590173,4799],[590258,4588],[590336,4477],[590285,4345],[590193,4174],[590175,4029],[590246,3878],[590512,3782]]},
{level:31,pts:[[591344,7993],[591328,7782],[591283,7624],[591378,7545],[591412,7333],[591362,7201],[591243,7149],[591073,7149],[590937,7180],[590913,7209],[590767,7109],[590700,7030],[590665,6885],[590479,6805],[590326,6805],[590180,6576],[590326,6423],[590336,6225],[590241,6079],[589986,5823],[590156,5657],[590183,5221],[590139,5076],[590173,4931],[590309,4693],[590472,4614],[590505,4355],[590353,4174],[590360,3887],[590494,3797]]},
{level:22,pts:[[591412,7993],[591412,7624],[591446,7439],[591429,7201],[591362,7135],[591073,7122],[590920,7056],[590801,6885],[590649,6805],[590513,6726],[590411,6576],[590462,6383],[590513,6277],[590479,6132],[590326,6013],[590180,5823],[590258,5678],[590299,5076],[590343,4852],[590479,4773],[590530,4627],[590547,4355]]},
{level:14,pts:[[590683,6726],[590632,6568],[590666,6277],[590666,6119],[590597,5961],[590496,5829],[590462,5459],[590428,5063],[590513,4799],[590564,4627],[590585,4355],[590406,4174],[590406,3887],[590583,3737]]},
{level:13,pts:[[590784,6462],[590903,6291],[590903,5961],[590767,5829],[590750,5221],[590615,5076],[590615,4355]]},
{level:38,pts:[[591151,7993],[591181,7782],[591219,7743],[591253,7782],[591270,7993]]},
{level:38,closed:true,pts:[[591226,7539],[591311,7465],[591311,7333],[591226,7254],[591158,7333],[591158,7465]]},
{level:14,pts:[[591905,7993],[591990,7920]]}
];

// ---------- steep edge shared by both years ----------
const stripEdge = [[590026,741],[590026,876],[590179,1027],[590179,1474],[590328,1625],[590328,2219],[590480,2373],[590480,2675],[590629,2822],[590629,3577],[590923,3878],[590774,4023],[590774,4330],[590922,4477],[590922,5380],[591075,5525],[591075,6721],[591245,6721],[591380,6879],[591533,6879],[591533,6721],[591669,6573],[591533,6428],[591533,5678],[591380,5533],[591380,5076],[591234,4931],[591214,4355],[591076,4180],[591076,3127],[590923,2976],[590923,2225],[590774,2077],[590774,1329],[590622,1178],[590622,741]];
const edgeBranches = [
[[591820,7332],[591820,6720]],
[[591820,7170],[591668,7026],[591820,6880]]
];
const edgeApexes = [
{x:591820,y:7332,dir:1},
{x:591820,y:6720,dir:-1}
];
const edgeLevels = [5, 11, 22, 32, 40, 47, 55, 62];
const edgeHoles = [
{level:0,pts:[[591534,6963],[591593,7021],[591668,6951],[591609,6884]]},
{level:11,pts:[[591682,6657],[591741,6716],[591820,6645],[591757,6583]]},
{level:11,pts:[[591682,7026],[591820,7154],[591820,6894]]},
{level:27,pts:[[591672,6910],[591725,6860],[591725,6745],[591672,6700],[591619,6745],[591619,6860]]},
{level:10,pts:[[591672,6880],[591695,6850],[591695,6750],[591672,6725],[591650,6750],[591650,6850]]},
{level:0,pts:[[590498,3655],[590558,3721],[590618,3655],[590558,3589]]},
{level:0,pts:[[590332,2756],[590392,2822],[590452,2756],[590392,2690]]}
];
const pocketLines = [
{levels:[60,48,36,26,16],step:18,pts:[[590470,3595],[590338,3565],[590374,3359],[590338,2816],[590470,2771]]},
{levels:[33,25,18,12],step:20,pts:[[590338,2711],[590197,2611],[590204,2379],[590338,2328]]},
{levels:[28,20,14],step:22,pts:[[590179,2303],[590083,2228],[590083,1700],[590179,1594]]},
{levels:[30,22,15],step:22,pts:[[590030,1547],[589931,1474],[589938,1036],[590055,1000]]},
{levels:[30,22,15],step:22,pts:[[589924,741],[589924,855],[589878,961],[589771,870],[589771,741]]}
];

// ---------- rendering ----------
const SVGNS = 'http://www.w3.org/2000/svg';
const PX_PER_UNIT = 845.45 / (xDomain[1] - xDomain[0]);
const AXES_BOTTOM = 1576.4;
const AXES_TOP = 223.6;
const panelDefs = [
  {x0:300, heat:heat1994, lines:contours1994},
  {x0:1314.55, heat:heat1999, lines:contours1999}
];
function lerp(stops, t){
  for(let k=1;k<stops.length;k++){
    if(t<=stops[k][0]){
      const a=stops[k-1], b=stops[k];
      return a[1]+(b[1]-a[1])*(t-a[0])/(b[0]-a[0]);
    }
  }
  return stops[stops.length-1][1];
}
const jetR=[[0,0],[0.35,0],[0.66,1],[0.89,1],[1,0.5]];
const jetG=[[0,0],[0.125,0],[0.375,1],[0.64,1],[0.91,0],[1,0]];
const jetB=[[0,0.5],[0.11,1],[0.34,1],[0.65,0],[1,0]];
function jet(v){
  const t=Math.max(0,Math.min(1,v/100));
  return 'rgb('+Math.round(lerp(jetR,t)*255)+','+Math.round(lerp(jetG,t)*255)+','+Math.round(lerp(jetB,t)*255)+')';
}
function make(tag, attrs, parent){
  const el=document.createElementNS(SVGNS,tag);
  for(const k in attrs){el.setAttribute(k,attrs[k]);}
  parent.appendChild(el);
  return el;
}
function drawPanel(def, idx){
  const root=document.getElementById('panel-'+idx);
  const xs=v=>def.x0+(v-xDomain[0])*PX_PER_UNIT;
  const ys=v=>AXES_BOTTOM-(v-yDomain[0])*PX_PER_UNIT;
  const pathOf=(pts,closed)=>pts.map((p,i)=>(i?'L':'M')+xs(p[0]).toFixed(1)+' '+ys(p[1]).toFixed(1)).join('')+(closed?'Z':'');
  const axW=xs(xDomain[1])-xs(xDomain[0]);
  const axH=ys(yDomain[0])-ys(yDomain[1]);
  const defs=make('defs',{},root);
  const clip=make('clipPath',{id:'axes-clip-'+idx},defs);
  make('rect',{x:xs(xDomain[0]),y:ys(yDomain[1]),width:axW,height:axH},clip);
  const bandClip=make('clipPath',{id:'edge-clip-'+idx},defs);
  make('path',{'clip-rule':'evenodd',d:'M0 0H2400V1800H0Z'+pathOf(stripEdge,true)},bandClip);

  const plot=make('g',{'clip-path':'url(#axes-clip-'+idx+')'},root);
  
  

  const heatGroup=make('g',{'shape-rendering':'crispEdges'},plot);
  
  
  const nRows=def.heat.length;
  def.heat.forEach(function(row,r){
    const j=nRows-1-r;
    row.forEach(function(val,i){
      const x1=xs(gridXStart+i*gridXStep), x2=xs(gridXStart+(i+1)*gridXStep);
      const y1=ys(gridYStart+(j+1)*gridYStep), y2=ys(gridYStart+j*gridYStep);
      const cell=make('rect',{x:x1.toFixed(2),y:y1.toFixed(2),width:(x2-x1+0.6).toFixed(2),height:(y2-y1+0.6).toFixed(2),fill:jet(val)},heatGroup);
      
      
    });
  });

  pocketLines.forEach(function(pocket){
    pocket.levels.forEach(function(level,k){
      const shifted=pocket.pts.map(p=>[p[0]+k*pocket.step,p[1]]);
      const line=make('path',{d:pathOf(shifted,false),fill:'none',stroke:jet(level),'stroke-width':4,'stroke-linejoin':'miter'},plot);
      
      
    });
  });

  def.lines.forEach(function(c){
    const line=make('path',{d:pathOf(c.pts,!!c.closed),fill:'none',stroke:jet(c.level),'stroke-width':4,'stroke-linejoin':'miter'},plot);
    
    
  });

  const bandGroup=make('g',{'clip-path':'url(#edge-clip-'+idx+')'},plot);
  
  
  const bandPath=pathOf(stripEdge,false)+edgeBranches.map(b=>pathOf(b,false)).join('');
  const bandWidths=[58,54,45,38,31,22,16,8];
  edgeLevels.forEach(function(level,k){
    const w=bandWidths[k];
    const stroke=make('path',{d:bandPath,fill:'none',stroke:jet(level),'stroke-width':w,'stroke-linejoin':'miter','stroke-miterlimit':6},bandGroup);
    
    
    edgeApexes.forEach(function(a){
      const ax=xs(a.x), ay=ys(a.y), half=w/2;
      const tip=make('polygon',{points:(ax-half)+','+ay+' '+ax+','+(ay-a.dir*half*0.9)+' '+(ax+half)+','+ay,fill:jet(level)},bandGroup);
      
      
    });
  });
  edgeHoles.forEach(function(h){
    const hole=make('path',{d:pathOf(h.pts,true),fill:jet(h.level)},plot);
    
    
  });

  const band=make('rect',{x:xs(xDomain[0]),y:ys(fillBandY[1]),width:axW,height:ys(fillBandY[0])-ys(fillBandY[1]),fill:jet(fillBandValue)},plot);
  
  

  const axes=make('g',{},root);
  
  
  const TICK=15;
  xTicks.forEach(function(v){
    const px=xs(v);
    const bottomTick=make('line',{x1:px,x2:px,y1:AXES_BOTTOM,y2:AXES_BOTTOM-TICK,stroke:'#000','stroke-width':2},axes);
    
    
    const topTick=make('line',{x1:px,x2:px,y1:AXES_TOP,y2:AXES_TOP+TICK,stroke:'#000','stroke-width':2},axes);
    
    
    const label=make('text',{x:px,y:1612,'font-size':24.4,'text-anchor':'middle'},axes);
    label.textContent=String(v);
    
    
  });
  yTicks.forEach(function(v){
    const py=ys(v);
    const leftTick=make('line',{x1:xs(xDomain[0]),x2:xs(xDomain[0])+TICK,y1:py,y2:py,stroke:'#000','stroke-width':2},axes);
    
    
    const rightTick=make('line',{x1:xs(xDomain[1]),x2:xs(xDomain[1])-TICK,y1:py,y2:py,stroke:'#000','stroke-width':2},axes);
    
    
    const label=make('text',{x:xs(xDomain[0])-15,y:py+9,'font-size':24.4,'text-anchor':'end'},axes);
    label.textContent=String(v);
    
    
  });
  const frame=make('rect',{x:xs(xDomain[0]),y:ys(yDomain[1]),width:axW,height:axH,fill:'none',stroke:'#000','stroke-width':3.4},axes);
  
  
}
panelDefs.forEach(drawPanel);
</script>
</body>
</html>
